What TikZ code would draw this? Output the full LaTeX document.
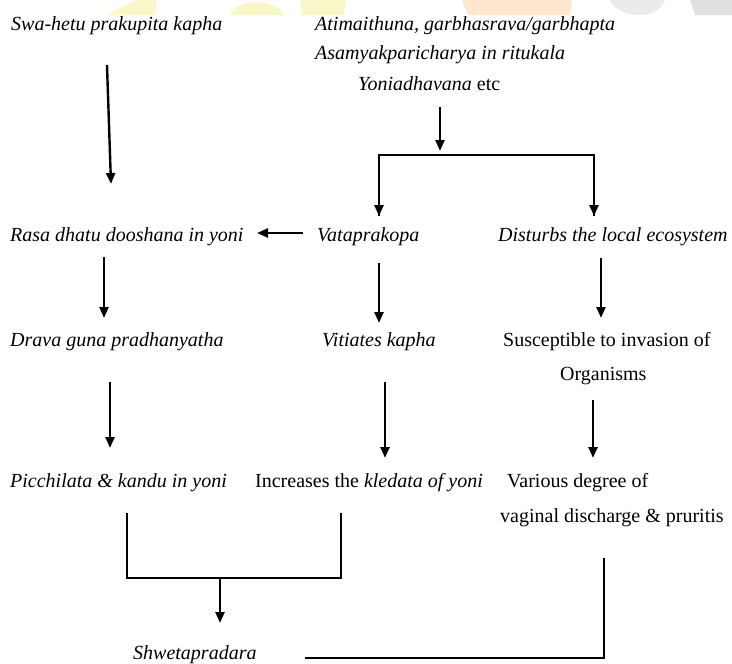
\documentclass[tikz,border=0pt]{standalone}
\usepackage{fontspec}
\setmainfont{Liberation Serif}
\usetikzlibrary{arrows.meta}
\definecolor{wmyellow}{RGB}{248,247,200}
\definecolor{wmorange}{RGB}{255,231,205}
\definecolor{wmgray}{RGB}{235,235,235}
\definecolor{wmgrayd}{RGB}{224,224,224}
\begin{document}
\begin{tikzpicture}[x=1pt,y=-1pt,
  lbl/.style={anchor=base west,inner sep=0pt,font=\fontsize{20}{24}\selectfont},
  conn/.style={line width=2.4pt,line cap=butt},
  arr/.style={conn,-{Triangle[width=9pt,length=11pt]}}]
\useasboundingbox (0,0) rectangle (732,664);
% faint watermark pieces at the top edge
\fill[wmyellow] (107,15) -- (135,0) -- (157,0) -- (155,15) -- cycle;
\fill[wmyellow] (230,15) .. controls (236,-2) and (277,-2) .. (283,15) -- cycle;
\fill[wmyellow] (300,0) -- (346,0) -- (343,15) -- (302,15) -- cycle;
\fill[wmorange] (462,0) -- (572,0) -- (570,15) -- (468,15) -- cycle;
\fill[wmgray] (610,0) -- (665,0) .. controls (662,10) and (650,15) .. (640,15) .. controls (625,15) and (613,8) .. (610,0);
\fill[wmgrayd] (690,0) -- (732,0) -- (732,15) -- (695,15) -- cycle;

% texts
\node[lbl] (swa) at (11,30) {\itshape Swa-hetu prakupita kapha};
\node[lbl] (ati) at (315,30) {\itshape Atimaithuna, garbhasrava/garbhapta};
\node[lbl] (asa) at (315,59) {\itshape Asamyakparicharya in ritukala};
\node[lbl] (yon) at (358,90) {\textit{Yoniadhavana} etc};
\node[lbl] (rasa) at (10,241) {\itshape Rasa dhatu dooshana in yoni};
\node[lbl] (vata) at (317,241) {\itshape Vataprakopa};
\node[lbl] (dist) at (498,241) {\itshape Disturbs the local ecosystem};
\node[lbl] (drava) at (10,346) {\itshape Drava guna pradhanyatha};
\node[lbl] (viti) at (322,346) {\itshape Vitiates kapha};
\node[lbl] (susc) at (503,346) {Susceptible to invasion of};
\node[lbl] (orga) at (560,380) {Organisms};
\node[lbl] (picc) at (10,487) {\itshape Picchilata \& kandu in yoni};
\node[lbl] (incr) at (255,487) {Increases the \textit{kledata of yoni}};
\node[lbl] (vari) at (507,487) {Various degree of};
\node[lbl] (vagi) at (500,522) {vaginal discharge \& pruritis};
\node[lbl] (shwe) at (133,659) {\itshape Shwetapradara};

% connector points
\coordinate (a1s) at (107,65);  \coordinate (a1e) at (111,184);
\coordinate (a2s) at (104,257); \coordinate (a2e) at (104,318);
\coordinate (a3s) at (110,382); \coordinate (a3e) at (110,448);
\coordinate (ys) at (440,107);  \coordinate (ye) at (440,151);
\coordinate (bl) at (379,155);  \coordinate (br) at (594,155);
\coordinate (ble) at (379,216); \coordinate (bre) at (594,216);
\coordinate (hs) at (303,233);  \coordinate (he) at (257,233);
\coordinate (m1s) at (379,263); \coordinate (m1e) at (379,323);
\coordinate (m2s) at (385,382); \coordinate (m2e) at (385,458);
\coordinate (r1s) at (601,258); \coordinate (r1e) at (601,318);
\coordinate (r2s) at (593,400); \coordinate (r2e) at (593,458);
\coordinate (jl) at (127,513);  \coordinate (jr) at (341,513);
\coordinate (jlb) at (127,578); \coordinate (jrb) at (341,578);
\coordinate (jm) at (220,578);  \coordinate (jme) at (220,623);
\coordinate (fs) at (604,558);  \coordinate (fc) at (604,658);
\coordinate (fe) at (305,658);

% connectors
\draw[arr] (a1s) -- (a1e);
\draw[arr] (a2s) -- (a2e);
\draw[arr] (a3s) -- (a3e);
\draw[arr] (ys) -- (ye);
\draw[conn,line join=miter] (ble) -- (bl) -- (br) -- (bre);
\draw[arr] ([yshift=-1.2pt]bl) -- (ble);
\draw[arr] ([yshift=-1.2pt]br) -- (bre);
\draw[arr] (hs) -- (he);
\draw[arr] (m1s) -- (m1e);
\draw[arr] (m2s) -- (m2e);
\draw[arr] (r1s) -- (r1e);
\draw[arr] (r2s) -- (r2e);
\draw[conn,line join=miter] (jl) -- (jlb) -- (jrb) -- (jr);
\draw[arr] (jm) -- (jme);
\draw[conn,line join=miter] (fs) -- (fc) -- (fe);
\end{tikzpicture}
\end{document}
